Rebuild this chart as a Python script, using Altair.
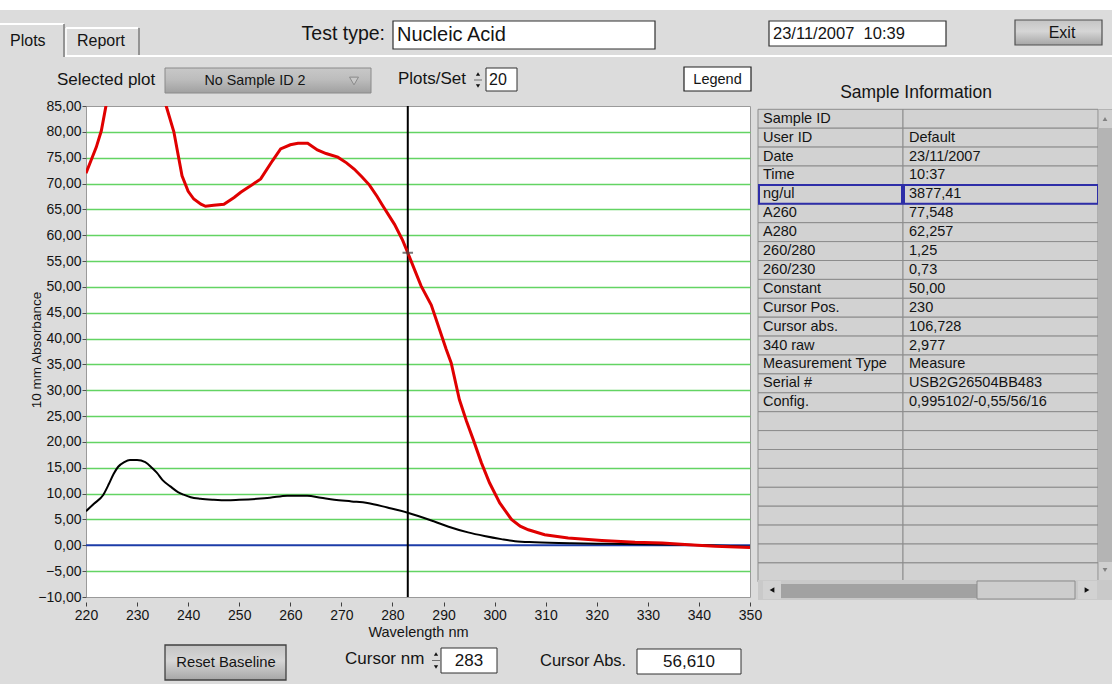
import altair as alt
import pandas as pd

# ---------------- data ----------------
red_nm = [220, 221, 222, 223, 224, 225, 227, 230, 233, 235, 235.7, 237.2, 238.8, 240, 241.1,
          242.5, 243.4, 245, 247, 249, 250.3, 252, 254.2, 256.5, 258.1, 260, 261.5, 263.4,
          265.3, 267, 269.3, 271, 272.5, 274, 275.5, 277, 278.1, 280.4, 282, 283, 284.3,
          285.6, 287.6, 289.2, 290.5, 291.5, 293.1, 294.5, 295.8, 297.4, 299, 301, 303.3,
          305, 306.6, 309.8, 314.4, 321, 327.5, 332.8, 338, 343.2, 350]
red_abs = [72.0, 74.5, 77.0, 80.2, 85.5, 90.0, 99.0, 106.7, 98.0, 88.0, 85.0, 80.0, 71.5, 68.5, 67.0,
           66.0, 65.6, 65.8, 66.0, 67.3, 68.3, 69.4, 70.9, 74.4, 76.7, 77.5, 77.8, 77.8,
           76.5, 75.8, 75.1, 74.0, 72.8, 71.3, 69.7, 67.5, 65.7, 62.1, 59.0, 56.6, 53.4,
           50.2, 46.5, 41.8, 38.0, 35.3, 28.2, 24.0, 20.5, 16.0, 12.1, 8.2, 5.0,
           3.7, 3.0, 2.05, 1.4, 0.95, 0.6, 0.45, 0.1, -0.2, -0.4]

black_nm = [220, 221.5, 223.4, 224.5, 225.4, 226.3, 227.5, 228.6, 230, 231.6, 233, 233.9, 235,
            236.5, 238, 239.1, 240.5, 242.4, 245, 247.6, 250, 253.5, 256, 259.4, 263.3, 266,
            268.6, 272, 275.1, 279, 283, 288.2, 291, 294.8, 298, 301.3, 304, 307.9, 315, 322,
            330, 338, 350]
black_abs = [6.6, 8.0, 9.8, 11.9, 13.8, 15.2, 16.1, 16.5, 16.5, 16.1, 14.9, 14.0, 12.6,
             11.4, 10.3, 9.8, 9.3, 9.0, 8.8, 8.7, 8.8, 9.0, 9.2, 9.6, 9.6, 9.2,
             8.8, 8.5, 8.2, 7.3, 6.3, 4.6, 3.6, 2.5, 1.8, 1.2, 0.8, 0.6, 0.4, 0.3,
             0.2, 0.1, -0.3]

cursor_nm = 283
cursor_abs = 56.610

x_ticks = [220, 230, 240, 250, 260, 270, 280, 290, 300, 310, 320, 330, 340, 350]
y_ticks = [-10, -5, 0, 5, 10, 15, 20, 25, 30, 35, 40, 45, 50, 55, 60, 65, 70, 75, 80, 85]

NB = "\u00a0"
info_labels = ["Sample ID", "User ID", "Date", "Time", "ng/ul", "A260", "A280", "260/280",
               "260/230", "Constant", "Cursor Pos.", "Cursor abs.", "340 raw",
               "Measurement Type", "Serial #", "Config."]
info_values = ["", "Default", "23/11/2007", "10:37", "3877,41", "77,548", "62,257", NB + "1,25",
               NB + "0,73", NB + "50,00", NB + "230", "106,728", NB + "2,977", "Measure",
               "USB2G26504BB483", "0,995102/-0,55/56/16"]
n_table_rows = 25

# ---------------- layout constants ----------------
FONT = "Liberation Sans"
OX, OY = 86, 106          # plot origin in page pixels
W, H = 664, 491           # plot area size
BG = "#dcdcdc"
TXT = "#141414"

# ---------------- plot ----------------
df_red = pd.DataFrame({"nm": red_nm, "abs": red_abs})
df_black = pd.DataFrame({"nm": black_nm, "abs": black_abs})
df_cursor = pd.DataFrame({"nm": [cursor_nm], "abs": [cursor_abs]})

xs = alt.Scale(domain=[220, 350], nice=False, zero=False)
ys = alt.Scale(domain=[-10, 85], nice=False, zero=False)

x_axis = alt.Axis(values=x_ticks, format="d", title="Wavelength nm", grid=False, domain=False,
                  tickSize=4, tickColor="#404040", offset=5, labelFontSize=14, labelFont=FONT,
                  labelColor=TXT, labelPadding=2, labelFlush=False, labelOverlap=False,
                  titleFont=FONT, titleFontSize=14.5, titleFontWeight="normal", titlePadding=3,
                  titleColor=TXT)
y_axis = alt.Axis(values=y_ticks, labelExpr="replace(format(datum.value, '.2f'), '.', ',')",
                  title=None, grid=True, tickCount=20,
                  gridColor={"condition": {"test": "datum.value == 0 || datum.value == 85 || datum.value == -10",
                                           "value": "transparent"}, "value": "#63d463"},
                  gridWidth=1.5, domain=False, tickSize=4, tickColor="#505050", labelFontSize=14,
                  labelFont=FONT, labelColor=TXT, labelPadding=1, labelFlush=False,
                  labelOverlap=False)

X = lambda: alt.X("nm:Q", scale=xs, axis=x_axis)
Y = lambda: alt.Y("abs:Q", scale=ys, axis=y_axis)

black_line = alt.Chart(df_black).mark_line(color="#000000", strokeWidth=2, clip=True,
                                           interpolate="monotone").encode(x=X(), y=Y())
red_line = alt.Chart(df_red).mark_line(color="#e00000", strokeWidth=3, clip=True).encode(x=X(), y=Y())
baseline = alt.Chart(df_cursor).mark_rule(color="#1c3ca8", strokeWidth=2).encode(
    y=alt.Y(datum=0, scale=ys, axis=y_axis))
cursor_rule = alt.Chart(df_cursor).mark_rule(color="#000000", strokeWidth=2).encode(x=X())
cursor_mark = alt.Chart(df_cursor).mark_point(shape="M-1,0L1,0M0,-0.5L0,0.5", size=110,
                                              stroke="#404040", strokeWidth=2, filled=False).encode(
    x=X(), y=Y())

plot = alt.layer(baseline, cursor_rule, black_line, red_line, cursor_mark)

# ---------------- sample information table ----------------
df_tab = pd.DataFrame({"row": list(range(n_table_rows)),
                       "label": info_labels + [""] * (n_table_rows - len(info_labels)),
                       "value": info_values + [""] * (n_table_rows - len(info_values))})
row_h = 18.9
t_top = 109.3 - OY
t_bot = t_top + n_table_rows * row_h
band = alt.Scale(type="band", domain=list(range(n_table_rows)), range=[t_top, t_bot],
                 paddingInner=0, paddingOuter=0)
pts = alt.Scale(type="point", domain=list(range(n_table_rows)), range=[t_top, t_bot], padding=0.5)

tab = alt.Chart(df_tab)
cells_l = tab.mark_rect(fill="#d2d2d2", stroke="#8c8c8c", strokeWidth=1).encode(
    x=alt.value(758 - OX), x2=alt.value(903 - OX), y=alt.Y("row:O", scale=band, axis=None))
cells_r = tab.mark_rect(fill="#d2d2d2", stroke="#8c8c8c", strokeWidth=1).encode(
    x=alt.value(903 - OX), x2=alt.value(1098 - OX), y=alt.Y("row:O", scale=band, axis=None))
sel_l = tab.transform_filter("datum.row == 4").mark_rect(fill="transparent", stroke="#2e2ea8",
                                                        strokeWidth=2).encode(
    x=alt.value(759 - OX), x2=alt.value(902 - OX), y=alt.Y("row:O", scale=band, axis=None))
sel_r = tab.transform_filter("datum.row == 4").mark_rect(fill="transparent", stroke="#2e2ea8",
                                                        strokeWidth=2).encode(
    x=alt.value(904 - OX), x2=alt.value(1098 - OX), y=alt.Y("row:O", scale=band, axis=None))
txt_l = tab.mark_text(align="left", baseline="middle", font=FONT, fontSize=14.5, color=TXT).encode(
    x=alt.value(763 - OX), y=alt.Y("row:O", scale=pts, axis=None), text="label:N")
txt_r = tab.mark_text(align="left", baseline="middle", font=FONT, fontSize=14.5, color=TXT).encode(
    x=alt.value(909 - OX), y=alt.Y("row:O", scale=pts, axis=None), text="value:N")

# ---------------- UI decoration helpers ----------------
one = alt.Chart(pd.DataFrame({"k": [0]}))


def px(v):
    return alt.value(v - OX)


def py(v):
    return alt.value(v - OY)


def box(x1, y1, x2, y2, fill, stroke=None, sw=1.0):
    kw = {"fill": fill}
    if stroke is not None:
        kw["stroke"] = stroke
        kw["strokeWidth"] = sw
    return one.mark_rect(**kw).encode(x=px(x1), x2=px(x2), y=py(y1), y2=py(y2))


def seg(x1, y1, x2, y2, color, sw=1.0):
    return one.mark_rule(color=color, strokeWidth=sw).encode(x=px(x1), x2=px(x2), y=py(y1), y2=py(y2))


def txt(x, y, s, size=17, align="left", color=TXT, angle=None):
    kw = dict(text=s, fontSize=size, align=align, baseline="middle", color=color, font=FONT)
    if angle is not None:
        kw["angle"] = angle
    return one.mark_text(**kw).encode(x=px(x), y=py(y))


def sym(x, y, shape, size, fill, stroke=None):
    kw = dict(shape=shape, size=size, filled=True, fill=fill, opacity=1)
    if stroke is not None:
        kw.update(stroke=stroke, strokeWidth=1)
    return one.mark_point(**kw).encode(x=px(x), y=py(y))


def grad(c1, c2, c3):
    return alt.Gradient(gradient="linear", x1=0, x2=0, y1=0, y2=1,
                        stops=[alt.GradientStop(color=c1, offset=0),
                               alt.GradientStop(color=c2, offset=0.45),
                               alt.GradientStop(color=c3, offset=1)])


btn = grad("#c4c4c4", "#d6d6d6", "#a6a6a6")

deco = [
    # top strip and tabs
    box(0, 0, 1112, 10, "#ffffff"),
    seg(0, 24, 64, 24, "#ffffff", 2),
    seg(64, 24, 64, 57, "#7c7c7c", 1.5),
    seg(66, 28, 138, 28, "#ffffff", 2),
    seg(66, 28, 66, 55, "#ffffff", 1.5),
    seg(139, 28, 139, 55, "#7c7c7c", 1.5),
    seg(65, 56, 1112, 56, "#ffffff", 2),
    txt(10, 41, "Plots", 16),
    txt(77, 41, "Report", 16),
    # test type
    txt(385, 34, "Test type:", 19.5, align="right"),
    box(393, 21, 655, 49, "#ffffff", "#303030", 1.2),
    txt(397, 35, "Nucleic Acid", 20),
    # date & exit
    box(769, 21, 946, 46, "#ffffff", "#303030", 1.2),
    txt(773, 33.5, "23/11/2007" + NB + NB + "10:39", 16.5),
    box(1015, 20, 1102, 45, btn, "#505050", 1.2),
    txt(1062, 33, "Exit", 16, align="center"),
    # selected plot row
    txt(57, 80, "Selected plot", 17),
    box(165, 68, 371, 93, grad("#c8c8c8", "#bdbdbd", "#a0a0a0"), "#8a8a8a", 1),
    txt(255, 81, "No Sample ID 2", 14.3, align="center"),
    sym(354, 81, "triangle-down", 80, "#c8c8c8", "#8a8a8a"),
    txt(398, 79, "Plots/Set", 17),
    sym(478, 74, "triangle-up", 18, "#101010"),
    sym(478, 86, "triangle-down", 18, "#101010"),
    seg(474, 80, 482, 80, "#707070", 1),
    box(486, 68, 517, 91, "#ffffff", "#303030", 1),
    txt(489, 80, "20", 16),
    box(684, 67, 751, 91, "#ffffff", "#202020", 1.2),
    txt(717.5, 79.5, "Legend", 14.5, align="center"),
    # sample information
    txt(916, 93, "Sample Information", 17.5, align="center"),
    # table scrollbars
    box(1098, 109, 1112, 580, "#b4b4b4"),
    box(1099, 110, 1112, 128, "#cfcfcf"),
    sym(1105, 119, "triangle-up", 22, "#808080"),
    box(1099, 562, 1112, 580, "#cfcfcf"),
    sym(1105, 570, "triangle-down", 22, "#808080"),
    box(758, 580, 1112, 600, "#c9c9c9"),
    box(763, 581, 781, 599, "#d2d2d2"),
    sym(772, 590, "triangle-left", 30, "#101010"),
    box(781, 584, 977, 598, "#a2a2a2"),
    box(977, 581, 1075, 599, "#cdcdcd", "#8c8c8c", 1),
    box(1078, 581, 1097, 599, "#d2d2d2"),
    sym(1087, 590, "triangle-right", 30, "#101010"),
    # y-axis title
    txt(37, 350, "10 mm Absorbance", 13.5, align="center", angle=270),
    # bottom controls
    box(165, 645, 286, 680, btn, "#404040", 1.3),
    txt(226, 662.5, "Reset Baseline", 14.8, align="center"),
    txt(345, 659, "Cursor nm", 17),
    sym(436, 654, "triangle-up", 18, "#101010"),
    sym(436, 667, "triangle-down", 18, "#101010"),
    seg(432, 660.5, 440, 660.5, "#707070", 1),
    box(441, 648, 497, 673, "#ffffff", "#303030", 1),
    txt(469, 661, "283", 17, align="center"),
    txt(540, 661, "Cursor Abs.", 16.5),
    box(637, 649, 741, 674, "#ffffff", "#303030", 1),
    txt(689, 662, "56,610", 17, align="center"),
]

chart = alt.layer(plot, cells_l, cells_r, sel_l, sel_r, txt_l, txt_r, *deco).resolve_scale(
    y="independent"
).properties(
    width=W, height=H,
    autosize=alt.AutoSizeParams(type="none"),
    padding={"left": OX, "top": OY, "right": 1112 - OX - W, "bottom": 684 - OY - H},
    background=BG,
).configure_view(fill="#ffffff", stroke="#9a9a9a", strokeWidth=1)

chart.save("out.html", embed_options={"renderer": "svg", "actions": False})
